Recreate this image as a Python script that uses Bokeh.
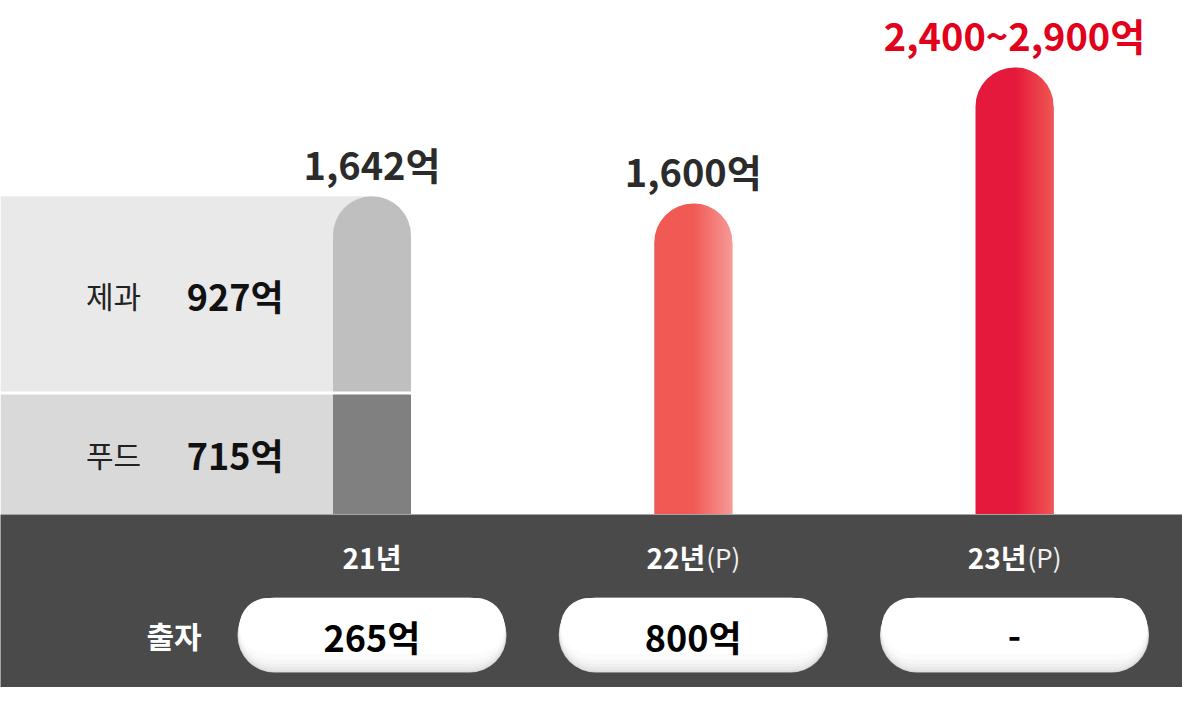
import math
from bokeh.plotting import figure
from bokeh.models import Range1d
from bokeh.layouts import column
from bokeh.embed import file_html
from bokeh.resources import INLINE
from bokeh.core.properties import value

# ---------------- data ----------------
years = ["21년", "22년", "23년"]
year_suffix = ["", "(P)", "(P)"]
sales_low = [1642, 1600, 2400]      # 매출 (억)
sales_high = [1642, 1600, 2900]
seg_names = ["푸드", "제과"]          # 21년 breakdown, bottom -> top
seg_values = [715, 927]
invest_title = "출자"
investment = ["265억", "800억", "-"]

# ---------------- layout / style constants ----------------
W, H_TOP, H_BOT = 1182, 514, 173
PX_PER_UNIT = 0.170
X0_PX, STEP_PX = 371.5, 321.25
BAR_PX = 78
R_PX = 39
FONT = value("Noto Sans CJK KR")

xs = list(range(len(years)))
x_start = -X0_PX / STEP_PX
x_end = (W - X0_PX) / STEP_PX
bar_w = BAR_PX / STEP_PX
r_data = R_PX / PX_PER_UNIT
cap_tops = [v + r_data for v in sales_low]

label_colors = ["#2b2b2b", "#2b2b2b", "#e2001a"]
bar_base = {1: "#f15a54", 2: "#e5193b"}
bar_end = {1: "#f79a98", 2: "#ef5753"}


def mix(c1, c2, t):
    a = [int(c1[i:i + 2], 16) for i in (1, 3, 5)]
    b = [int(c2[i:i + 2], 16) for i in (1, 3, 5)]
    return "#%02x%02x%02x" % tuple(round(a[j] + (b[j] - a[j]) * t) for j in range(3))


xr = Range1d(x_start, x_end)

# ---------------- top chart ----------------
top = figure(width=W, height=H_TOP, x_range=xr, y_range=Range1d(0, H_TOP / PX_PER_UNIT),
             output_backend="svg", toolbar_location=None, min_border=0,
             x_axis_location=None, y_axis_location=None, outline_line_color=None,
             background_fill_color="white", border_fill_color="white")
top.xgrid.visible = False
top.ygrid.visible = False

# 21년 stacked breakdown
seg_bottom = [0, seg_values[0]]
seg_top = [seg_values[0], seg_values[0] + seg_values[1]]
seg_top_vis = [seg_top[0], seg_top[1] + r_data]
panel_colors = ["#d9d9d9", "#e9e9e9"]
seg_colors = ["#808080", "#bfbfbf"]

top.quad(left=x_start, right=0, bottom=seg_bottom, top=seg_top_vis,
         fill_color=panel_colors, line_color=None)
top.vbar(x=xs[0], width=bar_w, bottom=seg_bottom[0], top=seg_top_vis[0],
         fill_color=seg_colors[0], line_color=None)
top.vbar(x=xs[0], width=bar_w, bottom=seg_bottom[1], top=seg_top_vis[1],
         fill_color=seg_colors[1], line_color=None, border_radius=(R_PX, R_PX, 0, 0))
top.segment(x0=x_start, x1=bar_w / 2, y0=seg_values[0], y1=seg_values[0],
            line_color="white", line_width=3)

# 22년 / 23년 bars with horizontal gradient on the right half
top.vbar(x=xs[1:], width=bar_w, bottom=0, top=cap_tops[1:],
         fill_color=[bar_base[i] for i in xs[1:]], line_color=None,
         border_radius=(R_PX, R_PX, 0, 0))
N = 28
sl, sr, st, sc = [], [], [], []
for i in xs[1:]:
    for k in range(N):
        sl.append(i + bar_w / 2 * k / N)
        sr.append(i + bar_w / 2 * min(1.0, (k + 1.7) / N))
        st.append(cap_tops[i])
        sc.append(mix(bar_base[i], bar_end[i], (k + 0.5) / N))
top.quad(left=sl, right=sr, bottom=0, top=st, fill_color=sc, line_color=None)
top.annular_wedge(x=xs[1:], y=sales_low[1:], inner_radius=R_PX + 0.2, outer_radius=R_PX * 1.5,
                  inner_radius_units="screen", outer_radius_units="screen",
                  start_angle=0, end_angle=math.pi / 2,
                  fill_color="white", line_color=None)

# value labels
labels = [f"{lo:,}억" if lo == hi else f"{lo:,}~{hi:,}억" for lo, hi in zip(sales_low, sales_high)]
top.text(x=xs, y=cap_tops, text=labels, text_color=label_colors, text_font=FONT,
         text_font_style="bold", text_font_size="38px", text_align="center",
         text_baseline="middle", y_offset=-33)

# breakdown labels
mid = [(b + t) / 2 for b, t in zip(seg_bottom, seg_top_vis)]
top.text(x=xs[0], y=mid, text=seg_names, x_offset=-258.5, text_align="center",
         text_baseline="middle", text_font=FONT, text_font_size="30px", text_color="#222222")
top.text(x=xs[0], y=mid, text=[f"{v}억" for v in seg_values], x_offset=-88.5, text_align="right",
         text_baseline="middle", text_font=FONT, text_font_style="bold",
         text_font_size="36px", text_color="#111111")

# ---------------- bottom band ----------------
bot = figure(width=W, height=H_BOT, x_range=xr, y_range=Range1d(687, 514),
             output_backend="svg", toolbar_location=None, min_border=0,
             x_axis_location=None, y_axis_location=None, outline_line_color=None,
             background_fill_color="#4a4a4a", border_fill_color="#4a4a4a")
bot.xgrid.visible = False
bot.ygrid.visible = False

CAT_Y = 556
plain = [i for i in xs if year_suffix[i] == ""]
withs = [i for i in xs if year_suffix[i] != ""]
bot.text(x=plain, y=CAT_Y, text=[years[i] for i in plain], text_align="center",
         text_baseline="middle", text_font=FONT, text_font_style="bold",
         text_font_size="28px", text_color="white")
bot.text(x=withs, y=CAT_Y, text=[years[i] for i in withs], text_align="right", x_offset=12,
         text_baseline="middle", text_font=FONT, text_font_style="bold",
         text_font_size="28px", text_color="white")
bot.text(x=withs, y=CAT_Y, text=[year_suffix[i] for i in withs], text_align="left", x_offset=13,
         text_baseline="middle", text_font=FONT, text_font_size="26px", text_color="#f0f0f0")

# pills
PILL_TOP = 597
layers = [(75, 269, "#cfcfcf"), (74, 268, "#e2e2e2"), (72, 267, "#e9e9e9"),
          (69, 267, "#f0f0f0"), (66, 266, "#f6f6f6"), (62, 266, "#fbfbfb"),
          (56, 265, "#ffffff")]
for h, w, c in layers:
    t0 = PILL_TOP if h == 75 else PILL_TOP + 0.5
    bot.rect(x=xs, y=t0 + h / 2, width=w, height=h, width_units="screen", height_units="screen",
             fill_color=c, line_color=None, border_radius=h // 2)

bot.text(x=xs, y=635, text=investment, text_align="center", text_baseline="middle",
         text_font=FONT, text_font_style="bold", text_font_size="36px", text_color="#000000")
bot.text(x=xs[0], y=634, text=[invest_title], x_offset=-198, text_align="center",
         text_baseline="middle", text_font=FONT, text_font_style="bold",
         text_font_size="30px", text_color="white")

layout = column(top, bot, spacing=0)
open("out.html", "w").write(file_html(layout, INLINE))
